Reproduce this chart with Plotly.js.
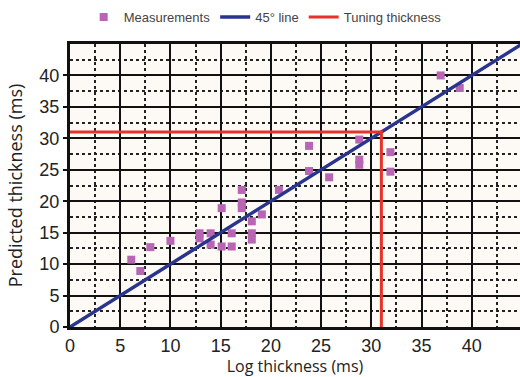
<!DOCTYPE html>
<html>
<head>
<meta charset="utf-8">
<script src="https://cdn.plot.ly/plotly-3.0.1.min.js"></script>
<style>html,body{margin:0;padding:0;background:#fff;}#chart{width:520px;height:377px;}</style>
</head>
<body>
<div id="chart"></div>
<script>
// Measurements (ms)
const logThickness = [6.1, 7.0, 8.0, 10.0, 12.9, 12.9, 14.0, 14.0, 15.1, 15.1, 16.1, 16.1, 17.1, 17.1, 17.1, 18.1, 18.1, 18.1, 19.1, 20.8, 23.8, 23.8, 25.8, 28.8, 28.8, 28.8, 31.9, 31.9, 36.9, 38.8];
const predictedThickness = [10.7, 8.9, 12.7, 13.7, 14.9, 14.1, 14.9, 13.1, 18.9, 12.8, 14.9, 12.8, 21.8, 19.8, 18.9, 16.8, 14.9, 13.9, 17.9, 21.8, 28.8, 24.8, 23.8, 29.8, 26.6, 25.8, 27.8, 24.7, 40.0, 38.0];
// 45 degree reference line
const lineX = [0, 45];
const lineY = [0, 45];
// Tuning thickness guide
const tuningX = [0, 31, 31];
const tuningY = [31, 31, 0];
// Tick labels
const tickVals = [0, 5, 10, 15, 20, 25, 30, 35, 40];
const tickText = ['0', '5', '10', '15', '20', '25', '30', '35', '40'];

const traces = [
  {x: logThickness, y: predictedThickness, type: 'scatter', mode: 'markers', name: 'Measurements',
   marker: {symbol: 'square', size: 8, color: '#b865b4'}},
  {x: lineX, y: lineY, type: 'scatter', mode: 'lines', name: '45\u00b0 line',
   line: {color: '#29348f', width: 3.5}},
  {x: tuningX, y: tuningY, type: 'scatter', mode: 'lines', name: 'Tuning thickness',
   line: {color: '#e6322b', width: 3}}
];

function axisCommon() {
  return {
    tickvals: tickVals, ticktext: tickText,
    ticks: 'outside', ticklen: 4, tickwidth: 2, tickcolor: '#111',
    showline: true, linecolor: '#111', linewidth: 3,
    showgrid: true, gridcolor: '#111', gridwidth: 2,
    zeroline: false,
    tickfont: {family: 'Liberation Sans, Arial, sans-serif', size: 18, color: '#222'},
    minor: {dtick: 2.5, tick0: 0, showgrid: true, gridcolor: '#222', gridwidth: 2, griddash: 'dot', ticks: ''}
  };
}

const layout = {
  width: 520, height: 377,
  margin: {l: 70, r: 0, t: 44, b: 50},
  paper_bgcolor: '#ffffff',
  plot_bgcolor: '#fdf9f4',
  showlegend: true,
  legend: {orientation: 'h', xref: 'container', x: 0.51, xanchor: 'center', yref: 'container', y: 0.955, yanchor: 'middle',
           font: {family: 'Liberation Sans, Arial, sans-serif', size: 13, color: '#444'},
           bgcolor: 'rgba(0,0,0,0)', itemwidth: 30, tracegroupgap: 0},
  xaxis: Object.assign(axisCommon(), {
    range: [0, 44.8], mirror: true, ticks: '',
    title: {text: 'Log thickness (ms)', font: {family: 'Open Sans, sans-serif', size: 16, color: '#222'}, standoff: 0}
  }),
  yaxis: Object.assign(axisCommon(), {
    range: [0, 45],
    title: {text: 'Predicted thickness (ms)', font: {family: 'Open Sans, sans-serif', size: 18, color: '#222'}, standoff: 13}
  })
};

Plotly.newPlot('chart', traces, layout, {displayModeBar: false, staticPlot: true});
</script>
</body>
</html>
